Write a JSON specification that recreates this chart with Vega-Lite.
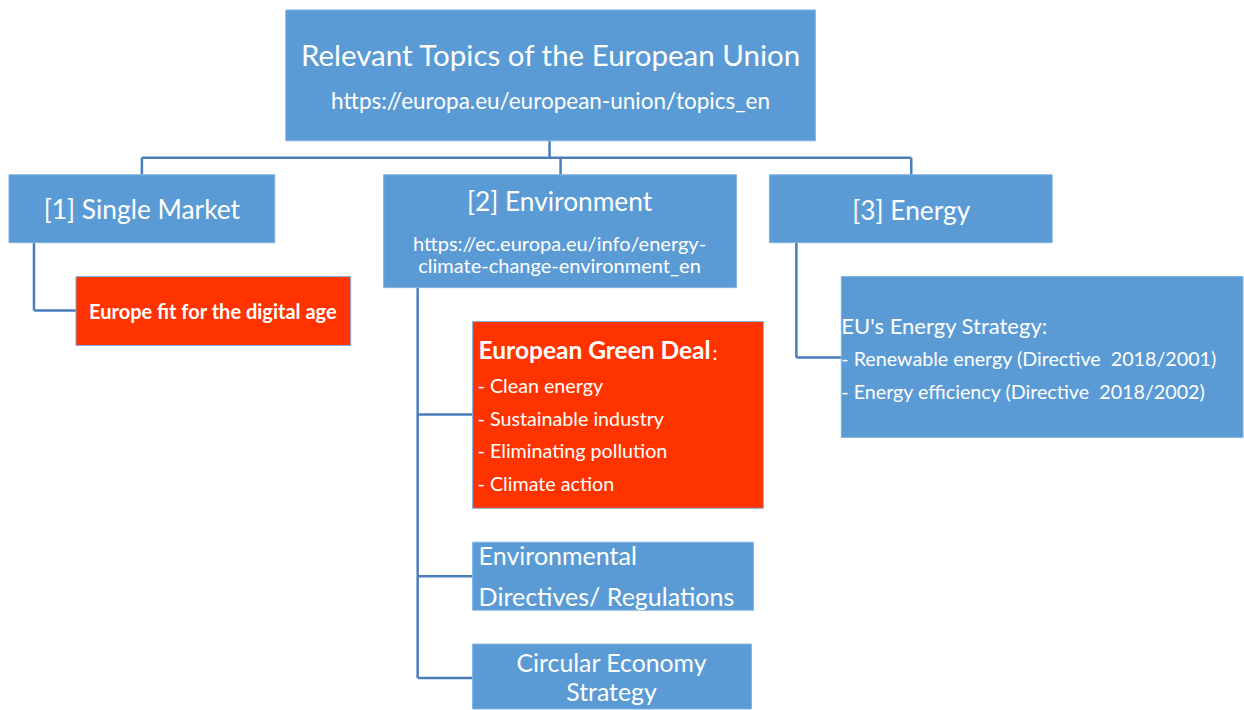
{
  "$schema": "https://vega.github.io/schema/vega-lite/v6.json",
  "autosize": {"type": "fit", "contains": "padding"},
  "width": 1244,
  "height": 710,
  "padding": 0,
  "background": "white",
  "config": {"view": {"stroke": null}, "text": {"font": "Lato", "color": "white", "dy": 2}},
  "datasets": {
    "boxes": [
      {"name": "root", "kind": "blue", "x": 286, "x2": 816, "y": 10, "y2": 141},
      {"name": "single", "kind": "blue", "x": 9, "x2": 275, "y": 175, "y2": 243},
      {"name": "env", "kind": "blue", "x": 384, "x2": 737, "y": 175, "y2": 288},
      {"name": "energy", "kind": "blue", "x": 770, "x2": 1053, "y": 175, "y2": 243},
      {"name": "digital", "kind": "red", "x": 76, "x2": 351, "y": 277, "y2": 346},
      {"name": "green", "kind": "red", "x": 473, "x2": 764, "y": 322, "y2": 509},
      {"name": "directives", "kind": "blue", "x": 473, "x2": 754, "y": 543, "y2": 611},
      {"name": "circular", "kind": "blue", "x": 473, "x2": 752, "y": 645, "y2": 710},
      {"name": "strategy", "kind": "blue", "x": 842, "x2": 1244, "y": 277, "y2": 438}
    ],
    "links": [
      {"x": 550, "x2": 550, "y": 141, "y2": 158},
      {"x": 142, "x2": 912, "y": 158, "y2": 158},
      {"x": 142, "x2": 142, "y": 158, "y2": 175},
      {"x": 561, "x2": 561, "y": 158, "y2": 175},
      {"x": 912, "x2": 912, "y": 158, "y2": 175},
      {"x": 34, "x2": 34, "y": 243, "y2": 311},
      {"x": 34, "x2": 76, "y": 311, "y2": 311},
      {"x": 418, "x2": 418, "y": 288, "y2": 679},
      {"x": 418, "x2": 473, "y": 415, "y2": 415},
      {"x": 418, "x2": 473, "y": 577, "y2": 577},
      {"x": 418, "x2": 473, "y": 679, "y2": 679},
      {"x": 797, "x2": 797, "y": 243, "y2": 358},
      {"x": 797, "x2": 842, "y": 358, "y2": 358}
    ],
    "labels": [
      {"role": "title", "text": "Relevant Topics of the European Union", "x": 551, "y": 55},
      {"role": "url", "text": "https://europa.eu/european-union/topics_en", "x": 551, "y": 100},
      {"role": "heading", "text": "[1] Single Market", "x": 142, "y": 209},
      {"role": "heading", "text": "[2] Environment", "x": 560, "y": 201},
      {"role": "heading", "text": "[3] Energy", "x": 912, "y": 210},
      {"role": "url2", "text": "https://ec.europa.eu/info/energy-", "x": 560, "y": 243},
      {"role": "url2", "text": "climate-change-environment_en", "x": 560, "y": 265},
      {"role": "boldc", "text": "Europe fit for the digital age", "x": 213, "y": 311},
      {"role": "boldl", "text": "European Green Deal", "x": 479, "y": 350},
      {"role": "item", "text": ":", "x": 713, "y": 352},
      {"role": "item", "text": "- Clean energy", "x": 478, "y": 386},
      {"role": "item", "text": "- Sustainable industry", "x": 478, "y": 419},
      {"role": "item", "text": "- Eliminating pollution", "x": 478, "y": 451},
      {"role": "item", "text": "- Climate action", "x": 478, "y": 484},
      {"role": "bigl", "text": "Environmental", "x": 479, "y": 556},
      {"role": "bigl", "text": "Directives/ Regulations", "x": 479, "y": 597},
      {"role": "bigc", "text": "Circular Economy", "x": 612, "y": 664},
      {"role": "bigc", "text": "Strategy", "x": 612, "y": 693},
      {"role": "strat", "text": "EU's Energy Strategy:", "x": 842, "y": 325},
      {"role": "item", "text": "- Renewable energy (Directive\u00a0 2018/2001)", "x": 842, "y": 359},
      {"role": "item", "text": "- Energy efficiency (Directive\u00a0 2018/2002)", "x": 842, "y": 392}
    ]
  },
  "layer": [
    {
      "data": {"name": "links"},
      "mark": {"type": "rule", "color": "#4A7EBB", "strokeWidth": 2.5},
      "encoding": {
        "x": {"field": "x", "type": "quantitative", "scale": {"domain": [0, 1244], "nice": false, "zero": false}, "axis": null},
        "x2": {"field": "x2"},
        "y": {"field": "y", "type": "quantitative", "scale": {"domain": [0, 710], "nice": false, "zero": false, "reverse": true}, "axis": null},
        "y2": {"field": "y2"}
      }
    },
    {
      "data": {"name": "boxes"},
      "mark": {"type": "rect", "stroke": "#7FB2E0", "strokeWidth": 1},
      "encoding": {
        "x": {"field": "x", "type": "quantitative", "scale": {"domain": [0, 1244], "nice": false, "zero": false}, "axis": null},
        "x2": {"field": "x2"},
        "y": {"field": "y", "type": "quantitative", "scale": {"domain": [0, 710], "nice": false, "zero": false, "reverse": true}, "axis": null},
        "y2": {"field": "y2"},
        "color": {"field": "kind", "type": "nominal", "scale": {"domain": ["blue", "red"], "range": ["#5B9BD5", "#FF3300"]}, "legend": null}
      }
    },
    {
      "data": {"name": "labels"},
      "layer": [
        {"transform": [{"filter": "datum.role === 'title'"}], "mark": {"type": "text", "fontSize": 29.5, "align": "center", "baseline": "middle"}},
        {"transform": [{"filter": "datum.role === 'url'"}], "mark": {"type": "text", "fontSize": 22.5, "align": "center", "baseline": "middle"}},
        {"transform": [{"filter": "datum.role === 'heading'"}], "mark": {"type": "text", "fontSize": 26.3, "align": "center", "baseline": "middle"}},
        {"transform": [{"filter": "datum.role === 'url2'"}], "mark": {"type": "text", "fontSize": 20, "align": "center", "baseline": "middle"}},
        {"transform": [{"filter": "datum.role === 'boldc'"}], "mark": {"type": "text", "fontSize": 20, "fontWeight": "bold", "align": "center", "baseline": "middle"}},
        {"transform": [{"filter": "datum.role === 'boldl'"}], "mark": {"type": "text", "fontSize": 24.5, "fontWeight": "bold", "align": "left", "baseline": "middle"}},
        {"transform": [{"filter": "datum.role === 'item'"}], "mark": {"type": "text", "fontSize": 19.7, "align": "left", "baseline": "middle"}},
        {"transform": [{"filter": "datum.role === 'bigl'"}], "mark": {"type": "text", "fontSize": 25, "align": "left", "baseline": "middle"}},
        {"transform": [{"filter": "datum.role === 'bigc'"}], "mark": {"type": "text", "fontSize": 24.8, "align": "center", "baseline": "middle"}},
        {"transform": [{"filter": "datum.role === 'strat'"}], "mark": {"type": "text", "fontSize": 22, "align": "left", "baseline": "middle"}}
      ],
      "encoding": {
        "x": {"field": "x", "type": "quantitative", "scale": {"domain": [0, 1244], "nice": false, "zero": false}, "axis": null},
        "y": {"field": "y", "type": "quantitative", "scale": {"domain": [0, 710], "nice": false, "zero": false, "reverse": true}, "axis": null},
        "text": {"field": "text"}
      }
    }
  ]
}
